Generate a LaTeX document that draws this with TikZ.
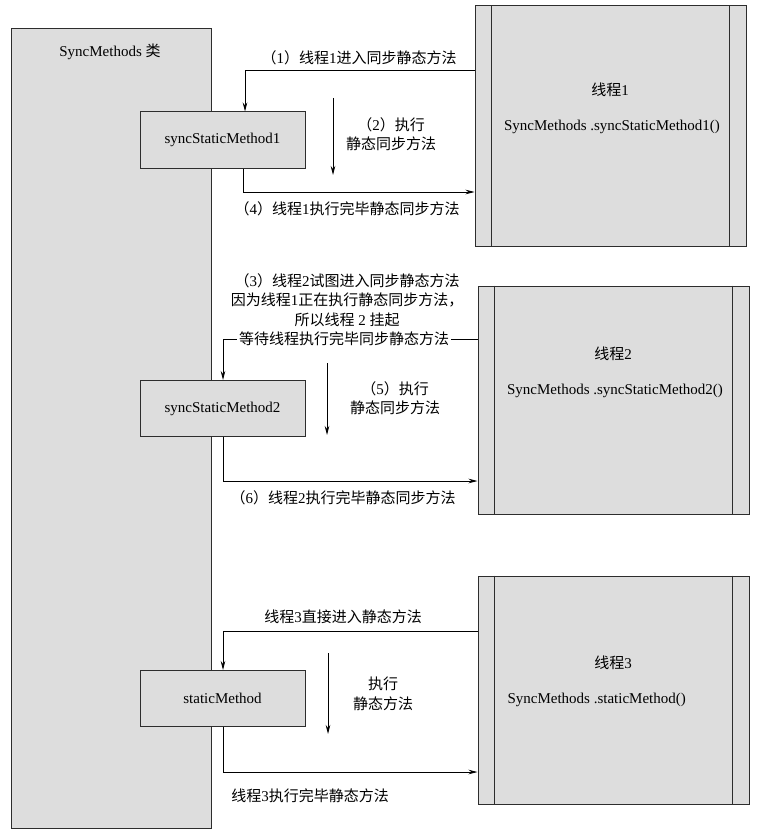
\documentclass[tikz,border=0pt]{standalone}
\usepackage{fontspec}
\setmainfont{Liberation Serif}
\newfontfamily\cjk{Noto Sans CJK SC}
\newcommand{\zh}[1]{{\cjk #1}}
\usetikzlibrary{arrows.meta}
\definecolor{boxgray}{RGB}{221,221,221}
\definecolor{edge}{RGB}{45,45,45}

\begin{document}
\begin{tikzpicture}[x=1pt,y=-1pt,>={Stealth[length=9pt,width=4.5pt]},
 font=\fontsize{15}{19.5}\selectfont,
 box/.style={draw=edge,line width=1pt,fill=boxgray,inner sep=0pt},
 lbl/.style={align=center,inner sep=1pt},
 conn/.style={->,line width=0.8pt}]
\useasboundingbox (0,0) rectangle (756,840);
\node[box,minimum width=200pt,minimum height=799pt] (cls) at (111,428.5) {};
\node (clsname) at (110,52) {SyncMethods \zh{类}};
% methods
\foreach \n/\y/\s in {m1/140/syncStaticMethod1,m2/408.5/syncStaticMethod2,m3/698.5/staticMethod}
 \node[box,minimum width=165pt,minimum height=56pt] (\n) at (222.5,\y) {\s};
% threads
\node[box,minimum width=271pt,minimum height=240pt] (t1) at (610.5,126) {};
\node[box,minimum width=271pt,minimum height=228pt] (t2) at (613.5,400) {};
\node[box,minimum width=271pt,minimum height=228pt] (t3) at (613.5,690) {};
\foreach \nm in {t1,t2,t3}
 \draw[draw=edge,line width=1pt] ([xshift=17pt]\nm.north west) -- ([xshift=17pt]\nm.south west)
  ([xshift=-17pt]\nm.north east) -- ([xshift=-17pt]\nm.south east);
\node (t1name) at (610,90) {\zh{线程}1};
\node (t1call) at (612,127) {SyncMethods .syncStaticMethod1()};
\node (t2name) at (613,354) {\zh{线程}2};
\node (t2call) at (615,391) {SyncMethods .syncStaticMethod2()};
\node (t3name) at (613,663) {\zh{线程}3};
\node[anchor=west] (t3call) at (504,700) {SyncMethods .staticMethod()};

% thread 1
\coordinate (c1) at (245,70);
\coordinate (c4) at (243,192);
\coordinate (d1a) at (333,98);
\coordinate (d1b) at (333,175);
\draw[conn] (t1.west |- c1) -- (c1) -- (m1.north -| c1);
\draw[conn] (m1.south -| c4) -- (c4) -- (t1.west |- c4);
\draw[conn] (d1a) -- (d1b);
\node[lbl] (l1) at (359,58) {\zh{（}1\zh{）线程}1\zh{进入同步静态方法}};
\node[lbl] (l2) at (391,134) {\zh{（}2\zh{）执行}\\\zh{静态同步方法}};
\node[lbl] (l4) at (347,209) {\zh{（}4\zh{）线程}1\zh{执行完毕静态同步方法}};

% thread 2
\coordinate (c3) at (223,339);
\coordinate (c6) at (223,481);
\coordinate (d2a) at (327,363);
\coordinate (d2b) at (327,435);
\draw[conn] (t2.west |- c3) -- (c3) -- (m2.north -| c3);
\draw[conn] (m2.south -| c6) -- (c6) -- (t2.west |- c6);
\draw[conn] (d2a) -- (d2b);
\node[lbl] (l3) at (347,300) {\zh{（}3\zh{）线程}2\zh{试图进入同步静态方法}\\
 \zh{因为线程}1\zh{正在执行静态同步方法，}\\\zh{所以线程} 2 \zh{挂起}};
\node[lbl,fill=white,inner sep=2pt] (l3w) at (344,339) {\zh{等待线程执行完毕同步静态方法}};
\node[lbl] (l5) at (395,398) {\zh{（}5\zh{）执行}\\\zh{静态同步方法}};
\node[lbl] (l6) at (343,498) {\zh{（}6\zh{）线程}2\zh{执行完毕静态同步方法}};

% thread 3
\coordinate (c7) at (223,631);
\coordinate (c9) at (223,772);
\coordinate (d3a) at (328,653);
\coordinate (d3b) at (328,734);
\draw[conn] (t3.west |- c7) -- (c7) -- (m3.north -| c7);
\draw[conn] (m3.south -| c9) -- (c9) -- (t3.west |- c9);
\draw[conn] (d3a) -- (d3b);
\node[lbl] (l7) at (343,617) {\zh{线程}3\zh{直接进入静态方法}};
\node[lbl] (l8) at (383,694) {\zh{执行}\\\zh{静态方法}};
\node[lbl] (l9) at (310,796) {\zh{线程}3\zh{执行完毕静态方法}};
\end{tikzpicture}
\end{document}
